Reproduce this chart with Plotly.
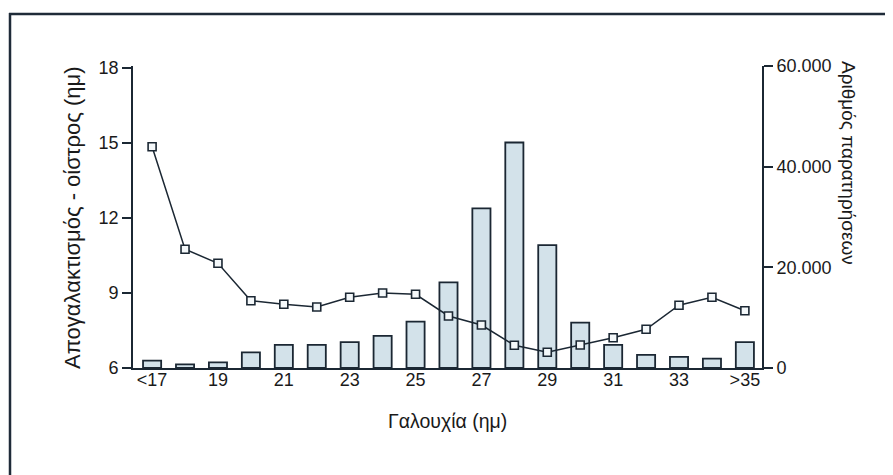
import plotly.graph_objects as go

categories = ["<17", "18", "19", "20", "21", "22", "23", "24", "25", "26",
              "27", "28", "29", "30", "31", "32", "33", "34", ">35"]
observations = [1450, 730, 1130, 3100, 4600, 4600, 5150, 6400, 9200, 17000,
                31700, 44800, 24400, 9000, 4600, 2600, 2200, 1850, 5150]
interval_days = [14.85, 10.75, 10.19, 8.69, 8.55, 8.44, 8.83, 9.0, 8.95, 8.08,
                 7.72, 6.91, 6.63, 6.92, 7.21, 7.55, 8.51, 8.83, 8.29]
x_tick_labels = ["<17", "19", "21", "23", "25", "27", "29", "31", "33", ">35"]
left_ticks = [6, 9, 12, 15, 18]
right_ticks = [0, 20000, 40000, 60000]
right_tick_text = ["0", "20.000", "40.000", "60.000"]

FONT = "Arial, Liberation Sans, Helvetica, sans-serif"
INK = "#1b2733"
FS = 18

fig = go.Figure()
# bars on the (right-side) count axis, drawn first
fig.add_trace(go.Bar(
    x=categories, y=observations, yaxis="y", width=0.55,
    marker=dict(color="#d3e2ea", line=dict(color=INK, width=1.8)),
    showlegend=False,
))
# line on the (left-side) days axis, drawn on top
fig.add_trace(go.Scatter(
    x=categories, y=interval_days, yaxis="y2", mode="lines+markers",
    line=dict(color=INK, width=1.5),
    marker=dict(symbol="square", size=8, color="#f4f8fa",
                line=dict(color=INK, width=1.6)),
    showlegend=False,
))

# the page body has an 8px default margin; compensate so the figure
# sits exactly in the 893x475 window
OFF = 8
W, H = 893 - OFF, 475 - OFF
L = 133 - OFF
R = W - (762 - OFF)
T = 66 - OFF
B = H - (368 - OFF)
pw, ph = W - L - R, H - T - B

def px(x):
    return (x - OFF - L) / pw

def py(y):
    return (H - B - (y - OFF)) / ph

fig.update_layout(
    width=W, height=H,
    margin=dict(l=L, r=R, t=T, b=B),
    paper_bgcolor="white", plot_bgcolor="white",
    font=dict(family=FONT, size=FS, color="#1a1a1a"),
    xaxis=dict(
        type="category", categoryorder="array", categoryarray=categories,
        range=[-0.58, 18.52],
        tickmode="array", tickvals=x_tick_labels, ticktext=x_tick_labels,
        showline=True, linecolor=INK, linewidth=1.6,
        ticks="", showgrid=False, zeroline=False,
        tickfont=dict(size=FS), ticklabelstandoff=-5,
    ),
    yaxis=dict(
        side="right", range=[0, 60000],
        tickmode="array", tickvals=right_ticks, ticktext=right_tick_text,
        showline=True, linecolor=INK, linewidth=1.6,
        ticks="outside", ticklen=9, tickwidth=1.6, tickcolor=INK,
        showgrid=False, zeroline=False, tickfont=dict(size=FS),
    ),
    yaxis2=dict(
        overlaying="y", side="left",
        range=[6, 18.08], tickmode="array", tickvals=left_ticks,
        showline=True, linecolor=INK, linewidth=1.6,
        ticks="outside", ticklen=9, tickwidth=1.6, tickcolor=INK,
        showgrid=False, zeroline=False, tickfont=dict(size=FS),
    ),
    annotations=[
        dict(text="Απογαλακτισμός - οίστρος (ημ)", xref="paper", yref="paper",
             x=px(72), y=py(218), textangle=-90, showarrow=False,
             font=dict(size=22), xanchor="center", yanchor="middle"),
        dict(text="Αριθμός παρατηρήσεων", xref="paper", yref="paper",
             x=px(849), y=py(163), textangle=90, showarrow=False,
             font=dict(size=19), xanchor="center", yanchor="middle"),
        dict(text="Γαλουχία (ημ)", xref="paper", yref="paper",
             x=px(448), y=py(421), showarrow=False,
             font=dict(size=19.5), xanchor="center", yanchor="middle"),
    ],
    shapes=[
        dict(type="line", xref="paper", yref="paper",
             x0=px(9), x1=px(893), y0=py(14), y1=py(14),
             line=dict(color="#1f2b38", width=2.5)),
        dict(type="line", xref="paper", yref="paper",
             x0=px(10), x1=px(10), y0=py(13), y1=py(475),
             line=dict(color="#1f2b38", width=2.5)),
    ],
)

fig.write_html("out.html")
